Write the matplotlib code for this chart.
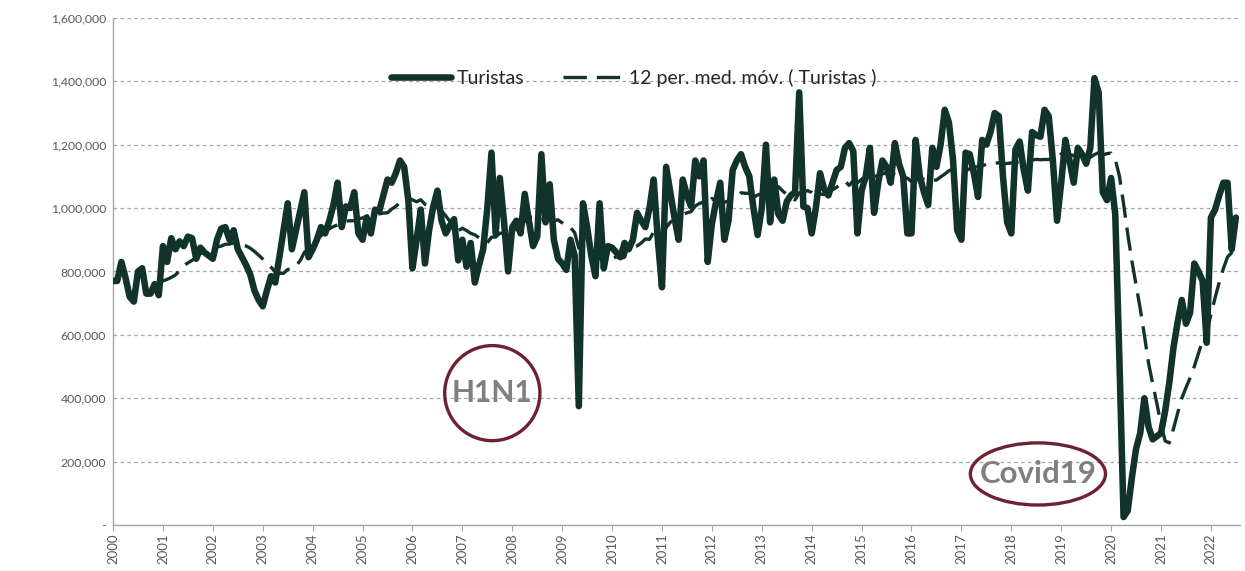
import matplotlib
matplotlib.use('Agg')
import matplotlib.pyplot as plt
from matplotlib.patches import Ellipse
from matplotlib.ticker import FuncFormatter
import numpy as np
import pandas as pd

plt.rcParams['font.family'] = ['Lato', 'DejaVu Sans']

# monthly tourists (thousands)
y2000 = [770, 770, 830, 780, 720, 705, 800, 810, 730, 730, 760, 725]
y2001 = [880, 830, 905, 870, 895, 880, 910, 905, 840, 875, 860, 850]
y2002 = [840, 900, 935, 940, 900, 930, 870, 845, 820, 790, 740, 710]
y2003 = [690, 740, 785, 765, 845, 930, 1015, 870, 930, 990, 1050, 845]
y2004 = [870, 900, 940, 920, 960, 1010, 1080, 940, 1005, 1000, 1050, 920]
y2005 = [900, 970, 920, 995, 990, 1040, 1090, 1080, 1110, 1150, 1130, 1025]
y2006 = [810, 900, 995, 825, 930, 1005, 1055, 960, 920, 945, 965, 835]
y2007 = [900, 815, 890, 765, 820, 870, 1000, 1175, 920, 1095, 960, 800]
y2008 = [940, 960, 920, 1045, 960, 880, 910, 1170, 955, 1075, 900, 840]
y2009 = [825, 805, 900, 850, 375, 1015, 940, 850, 785, 1015, 810, 880]
y2010 = [875, 860, 845, 890, 870, 900, 985, 960, 940, 1000, 1090, 900]
y2011 = [750, 1130, 1050, 970, 900, 1090, 1040, 1005, 1150, 1100, 1150, 830]
y2012 = [950, 1020, 1080, 900, 960, 1120, 1150, 1170, 1130, 1100, 1000, 915]
y2013 = [1000, 1200, 955, 1090, 980, 960, 1020, 1040, 1050, 1365, 1005, 1000]
y2014 = [920, 1000, 1110, 1060, 1040, 1080, 1120, 1130, 1190, 1205, 1180, 920]
y2015 = [1055, 1100, 1190, 985, 1080, 1150, 1130, 1080, 1205, 1140, 1100, 920]
y2016 = [920, 1215, 1100, 1050, 1010, 1190, 1130, 1200, 1310, 1270, 1150, 930]
y2017 = [900, 1175, 1170, 1110, 1035, 1215, 1200, 1240, 1300, 1290, 1100, 955]
y2018 = [920, 1185, 1210, 1120, 1055, 1240, 1230, 1225, 1310, 1290, 1150, 960]
y2019 = [1080, 1215, 1150, 1080, 1190, 1170, 1140, 1190, 1410, 1365, 1050, 1025]
y2020 = [1095, 980, 520, 25, 45, 150, 240, 290, 400, 310, 270, 280]
y2021 = [290, 360, 450, 560, 640, 710, 635, 670, 825, 800, 770, 575]
y2022 = [970, 995, 1040, 1080, 1080, 870, 970]

years = list(range(2000, 2023))

turistas = np.array(y2000 + y2001 + y2002 + y2003 + y2004 + y2005 + y2006 + y2007
                    + y2008 + y2009 + y2010 + y2011 + y2012 + y2013 + y2014 + y2015
                    + y2016 + y2017 + y2018 + y2019 + y2020 + y2021 + y2022) * 1000
idx = np.arange(len(turistas))
media_movil = pd.Series(turistas).rolling(12).mean()

verde = '#11332b'
gris = '#595959'
granate = '#6e2130'

fig = plt.figure(figsize=(12.45, 5.71), dpi=100)
ax = fig.add_axes([0.0908, 0.0806, 0.9052, 0.888])

ax.plot(idx, turistas, color=verde, lw=4.7, solid_joinstyle='round',
        solid_capstyle='round', label='Turistas', zorder=3)
ax.plot(idx, media_movil, color=verde, lw=2.4, dashes=(7, 3),
        label='12 per. med. móv. ( Turistas )', zorder=4)

ax.set_xlim(0, 271)
ax.set_ylim(0, 1600000)
ax.set_yticks(np.arange(0, 1600001, 200000))
ax.yaxis.set_major_formatter(FuncFormatter(lambda v, p: '-' if v == 0 else f'{int(v):,}'))
ax.set_xticks(np.arange(len(years)) * 12)
ax.set_xticklabels([str(y) for y in years], rotation=90)

ax.grid(axis='y', color='#a6a6a6', lw=0.9, linestyle=(0, (3, 2.5)))
ax.set_axisbelow(True)
for s in ['top', 'right']:
    ax.spines[s].set_visible(False)
for s in ['left', 'bottom']:
    ax.spines[s].set_color('#a6a6a6')
    ax.spines[s].set_linewidth(1)
ax.tick_params(axis='y', length=0, labelsize=8.8, labelcolor=gris, pad=5)
ax.tick_params(axis='x', length=4, color='#a6a6a6', labelsize=9.5, labelcolor=gris, pad=2)

leg = ax.legend(loc='center', bbox_to_anchor=(0.462, 0.882), ncol=2, frameon=False,
                fontsize=14, handlelength=3.1, handletextpad=0.3, columnspacing=2.0)
for t in leg.get_texts():
    t.set_color('#262626')

# annotations
ax.add_patch(Ellipse((91.2, 416000), 22.9, 300000, fill=False, ec=granate, lw=2.4, zorder=5))
ax.text(91.2, 416000, 'H1N1', ha='center', va='center', fontsize=21.5,
        fontweight='bold', color='#7f7f7f', zorder=6)
ax.add_patch(Ellipse((222.4, 161000), 32.5, 196000, fill=False, ec=granate, lw=2.4, zorder=5))
ax.text(222.4, 161000, 'Covid19', ha='center', va='center', fontsize=22.5,
        fontweight='bold', color='#7f7f7f', zorder=6)

fig.savefig('out.png', dpi=100)
